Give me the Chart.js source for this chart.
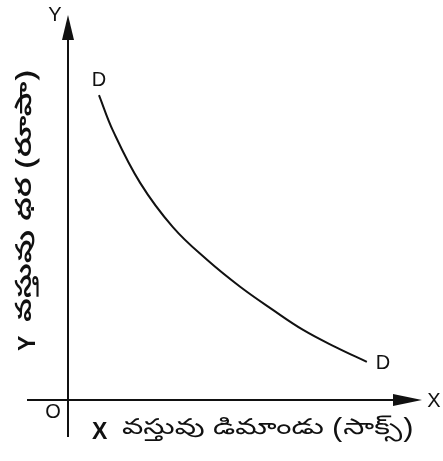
<!DOCTYPE html>
<html>
<head>
<meta charset="utf-8">
<script src="https://cdn.jsdelivr.net/npm/chart.js@4.4.0/dist/chart.umd.min.js"></script>
<style>
  html, body { margin: 0; padding: 0; background: #fff; }
  #wrap { width: 443px; height: 461px; }
</style>
</head>
<body>
<div id="wrap"><canvas id="demand"></canvas></div>
<script>
// demand curve D-D (x = quantity, y = price)
const quantity = [0.88, 1.28, 2.05, 2.98, 3.95, 4.89, 5.82, 6.68, 7.59, 8.49];
const price = [7.92, 6.99, 5.64, 4.49, 3.64, 2.94, 2.34, 1.82, 1.38, 0.99];
const curveLabel = 'D';
const xTitle = ['X', 'వస్తువు డిమాండు (సాక్స్)'];
const yTitle = ['Y', 'వస్తువు ధర (రూపా)'];

// draw text squeezed/stretched to a given width
function fitText(ctx, text, x, y, width) {
  const w = ctx.measureText(text).width;
  ctx.save();
  ctx.translate(x, y);
  ctx.scale(width / w, 1);
  ctx.fillText(text, 0, 0);
  ctx.restore();
}

const axesPlugin = {
  id: 'axes',
  afterDatasetsDraw(chart) {
    const ctx = chart.ctx;
    const x = chart.scales.x, y = chart.scales.y;
    const ox = x.getPixelForValue(0), oy = y.getPixelForValue(0);
    const top = chart.chartArea.top, right = chart.chartArea.right;
    ctx.save();
    ctx.strokeStyle = '#111';
    ctx.fillStyle = '#111';
    ctx.lineWidth = 2;
    // y axis
    ctx.beginPath();
    ctx.moveTo(ox, oy + 37);
    ctx.lineTo(ox, top + 20);
    ctx.stroke();
    ctx.beginPath();
    ctx.moveTo(ox, top);
    ctx.lineTo(ox - 6, top + 25);
    ctx.lineTo(ox + 6, top + 25);
    ctx.closePath();
    ctx.fill();
    // x axis
    ctx.beginPath();
    ctx.moveTo(ox - 41, oy);
    ctx.lineTo(right - 20, oy);
    ctx.stroke();
    ctx.beginPath();
    ctx.moveTo(right + 2, oy);
    ctx.lineTo(right - 27, oy - 6);
    ctx.lineTo(right - 27, oy + 6);
    ctx.closePath();
    ctx.fill();

    ctx.font = '20px "Liberation Sans", Arial, sans-serif';
    ctx.textAlign = 'center';
    ctx.textBaseline = 'middle';
    ctx.fillText('Y', ox - 13, 15);
    ctx.fillText('X', right + 14, oy + 1);
    ctx.fillText('O', ox - 15, oy + 12);
    // D labels at the ends of the curve
    const n = quantity.length - 1;
    ctx.fillText(curveLabel, x.getPixelForValue(quantity[0]), y.getPixelForValue(price[0]) - 15);
    ctx.fillText(curveLabel, x.getPixelForValue(quantity[n]) + 16, y.getPixelForValue(price[n]) + 2);

    // x axis title
    ctx.textAlign = 'left';
    ctx.font = 'bold 23px "Liberation Sans", Arial, sans-serif';
    ctx.fillText(xTitle[0], ox + 24, oy + 33);
    ctx.font = '22px "Noto Sans Telugu", "Noto Sans", sans-serif';
    fitText(ctx, xTitle[1], ox + 54, oy + 31, 291);

    // y axis title, rotated
    ctx.save();
    ctx.translate(ox - 40, 0);
    ctx.rotate(-Math.PI / 2);
    ctx.font = 'bold 23px "Liberation Sans", Arial, sans-serif';
    ctx.fillText(yTitle[0], -351, 1);
    ctx.font = '600 22px "Noto Sans Telugu", "Noto Sans", sans-serif';
    fitText(ctx, yTitle[1], -322, 0, 252);
    ctx.restore();
    ctx.restore();
  }
};

new Chart(document.getElementById('demand'), {
  type: 'scatter',
  data: {
    datasets: [{
      label: curveLabel,
      data: quantity.map((q, i) => ({ x: q, y: price[i] })),
      showLine: true,
      borderColor: '#111',
      borderWidth: 2,
      pointRadius: 0,
      tension: 0.4
    }]
  },
  options: {
    responsive: true,
    maintainAspectRatio: false,
    animation: false,
    layout: { padding: { left: 68, top: 15, right: 23, bottom: 61 } },
    plugins: { legend: { display: false }, tooltip: { enabled: false } },
    scales: {
      x: { display: false, min: 0, max: 10 },
      y: { display: false, min: 0, max: 10 }
    }
  },
  plugins: [axesPlugin]
});
</script>
</body>
</html>
